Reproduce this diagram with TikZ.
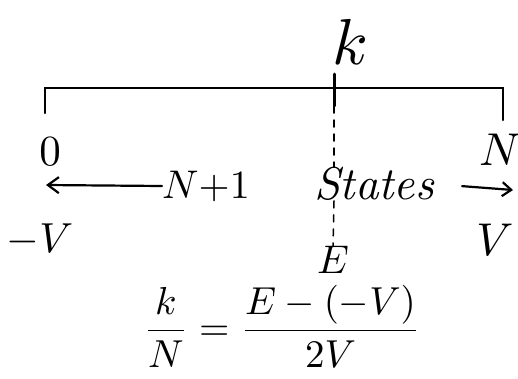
\documentclass[tikz,border=0pt]{standalone}
\usepackage{amsmath}
\usepackage{graphicx}
\usepackage{tikz}
\usetikzlibrary{arrows.meta, positioning, calc}
\newcommand{\handtext}[2][4.2]{\scalebox{#1}{#2}}

\begin{document}
\begin{tikzpicture}[x=1pt, y=-1pt,
    pen/.style={line width=2.2pt, line cap=round},
    hand/.style={inner sep=0pt}]
  \useasboundingbox (0,0) rectangle (518,378);
  % Bar of states
  \coordinate (lfoot) at (45,113);
  \coordinate (lend) at (45,88);
  \coordinate (rend) at (503,88);
  \coordinate (rfoot) at (503,120);
  \draw[pen] (lfoot) -- (lend) -- (rend) -- (rfoot);
  % Mark k
  \coordinate (ktop) at (334,74);
  \coordinate (kbot) at (334,106);
  \draw[pen, line width=3pt] (ktop) -- (kbot);
  \node[hand] (klab) at (350,42) {\handtext[6.5]{$k$}};
  % End labels
  \node[hand] (zero) at (50,152) {\handtext[4.3]{$0$}};
  \node[hand] (nlab) at (500,150) {\handtext[4.6]{$N$}};
  % Count of states
  \node[hand] (nplus) at (206,186) {\handtext[4]{$N{+}1$}};
  \node[hand] (states) at (374,184) {\handtext[4.6]{\itshape States}};
  \coordinate (ltip) at (46,185);
  \coordinate (rtip) at (513,190);
  \draw[pen, -{Straight Barb[length=11pt, width=16pt]}] (nplus.west) -- (ltip);
  \draw[pen, shorten <=28pt, -{Straight Barb[length=9pt, width=14pt]}] (states.east) -- (rtip);
  % Energy range
  \node[hand] (negv) at (40,240) {\handtext{$-V$}};
  \node[hand] (posv) at (495,240) {\handtext[4.6]{$V$}};
  \node[hand] (elab) at (333,260) {\handtext[4]{$E$}};
  % Dashed drop from k to E
  \draw[pen, line width=1.5pt, dash pattern=on 7pt off 7pt] (kbot) -- (kbot |- states.north);
  \draw[pen, line width=1.5pt, dash pattern=on 7pt off 7pt] (kbot |- states.south) -- (elab.north);
  % Relation
  \node[hand] (eqn) at (282,326)
    {\handtext[3.9]{$\displaystyle \frac{k}{N} = \frac{E-(-V)}{2V}$}};
\end{tikzpicture}
\end{document}
